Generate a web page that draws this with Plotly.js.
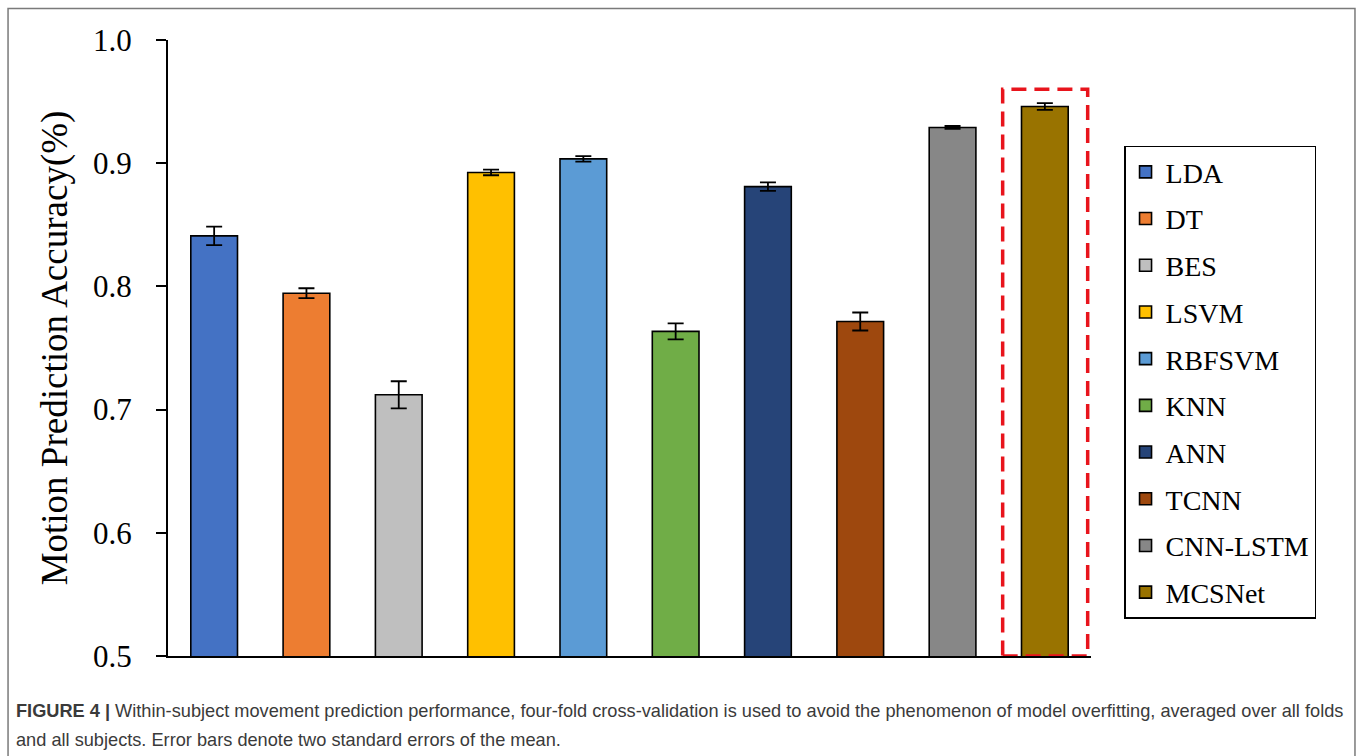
<!DOCTYPE html>
<html>
<head>
<meta charset="utf-8">
<script src="https://cdn.plot.ly/plotly-3.0.1.min.js"></script>
<style>
  html, body { margin: 0; padding: 0; background: #ffffff; }
  #chart { width: 1360px; height: 756px; }
</style>
</head>
<body>
<div id="chart"></div>
<script>
// Mean within-subject accuracy per model, with two-standard-error bars
const models = ["LDA", "DT", "BES", "LSVM", "RBFSVM", "KNN", "ANN", "TCNN", "CNN-LSTM", "MCSNet"];
const accuracy = [0.841, 0.7945, 0.712, 0.8925, 0.9035, 0.7635, 0.881, 0.7715, 0.929, 0.946];
const errorBar = [0.0075, 0.004, 0.011, 0.0023, 0.0023, 0.0065, 0.0035, 0.0073, 0.0012, 0.0027];
const barColors = ["#4472C4", "#ED7D31", "#BFBFBF", "#FFC000", "#5B9BD5",
                   "#70AD47", "#264478", "#9E480E", "#878787", "#997300"];
const yTicks = [0.5, 0.6, 0.7, 0.8, 0.9, 1.0];
const highlighted = "MCSNet";

const serif = "Liberation Serif, Times New Roman, serif";
const sans = "Liberation Sans, Arial, sans-serif";

// One trace per model so every model gets its own legend entry
const traces = models.map((name, i) => ({
  type: "bar",
  name: name,
  x: [name],
  y: [accuracy[i]],
  legendgroup: name,
  marker: { color: barColors[i], line: { color: "#000000", width: 1.6 } },
  error_y: { type: "data", array: [errorBar[i]], visible: true,
             color: "#000000", thickness: 1.8, width: 8 },
  hoverinfo: "x+y"
}));

const hi = models.indexOf(highlighted);

const layout = {
  width: 1360,
  height: 756,
  margin: { l: 168, r: 269, t: 40, b: 100, pad: 0 },
  paper_bgcolor: "#ffffff",
  plot_bgcolor: "#ffffff",
  barmode: "overlay",
  bargap: 0.494,
  showlegend: true,
  legend: {
    x: 1.0358, y: 0.8285, xanchor: "left", yanchor: "top",
    bordercolor: "#000000", borderwidth: 1.5,
    font: { family: serif, size: 28, color: "#000000" },
    traceorder: "grouped", tracegroupgap: 7.3,
    entrywidth: 167, entrywidthmode: "pixels",
    itemclick: false, itemdoubleclick: false
  },
  xaxis: {
    type: "category",
    categoryorder: "array",
    categoryarray: models,
    showline: true, linecolor: "#000000", linewidth: 2,
    showticklabels: false, ticks: "", showgrid: false, zeroline: false,
    range: [-0.5, models.length - 0.5]
  },
  yaxis: {
    range: [0.5, 1.0],
    tickvals: yTicks,
    ticktext: yTicks.map(v => v.toFixed(1)),
    showline: true, linecolor: "#000000", linewidth: 2,
    ticks: "outside", ticklen: 10, tickwidth: 2, tickcolor: "#000000",
    ticklabelstandoff: 18,
    showgrid: false, zeroline: false,
    tickfont: { family: serif, size: 31, color: "#000000" },
    title: { text: "Motion Prediction Accuracy(%)", standoff: 14,
             font: { family: serif, size: 37, color: "#000000" } }
  },
  shapes: [
    // highlight box around the proposed model
    { type: "rect", xref: "x", yref: "y",
      x0: hi - 0.457, x1: hi + 0.464, y0: 0.5, y1: 0.96,
      line: { color: "#E8141C", width: 3.5, dash: "15px,8px" },
      fillcolor: "rgba(0,0,0,0)", layer: "above" },
    // figure frame
    { type: "rect", xref: "paper", yref: "paper",
      x0: -0.1733, x1: 1.2860, y0: -0.17, y1: 1.0512,
      line: { color: "#7a7a7a", width: 1.5 },
      fillcolor: "rgba(0,0,0,0)", layer: "below" }
  ],
  annotations: [
    { xref: "paper", yref: "paper", x: -0.1668, y: -0.0893,
      xanchor: "left", yanchor: "middle", showarrow: false, align: "left",
      font: { family: sans, size: 18.2, color: "#3a3a3a" },
      text: "<b>FIGURE 4 |</b> Within-subject movement prediction performance, four-fold cross-validation is used to avoid the phenomenon of model overfitting, averaged over all folds" },
    { xref: "paper", yref: "paper", x: -0.1668, y: -0.1364,
      xanchor: "left", yanchor: "middle", showarrow: false, align: "left",
      font: { family: sans, size: 18.2, color: "#3a3a3a" },
      text: "and all subjects. Error bars denote two standard errors of the mean." }
  ]
};

Plotly.newPlot("chart", traces, layout, { displayModeBar: false, staticPlot: false });
</script>
</body>
</html>
